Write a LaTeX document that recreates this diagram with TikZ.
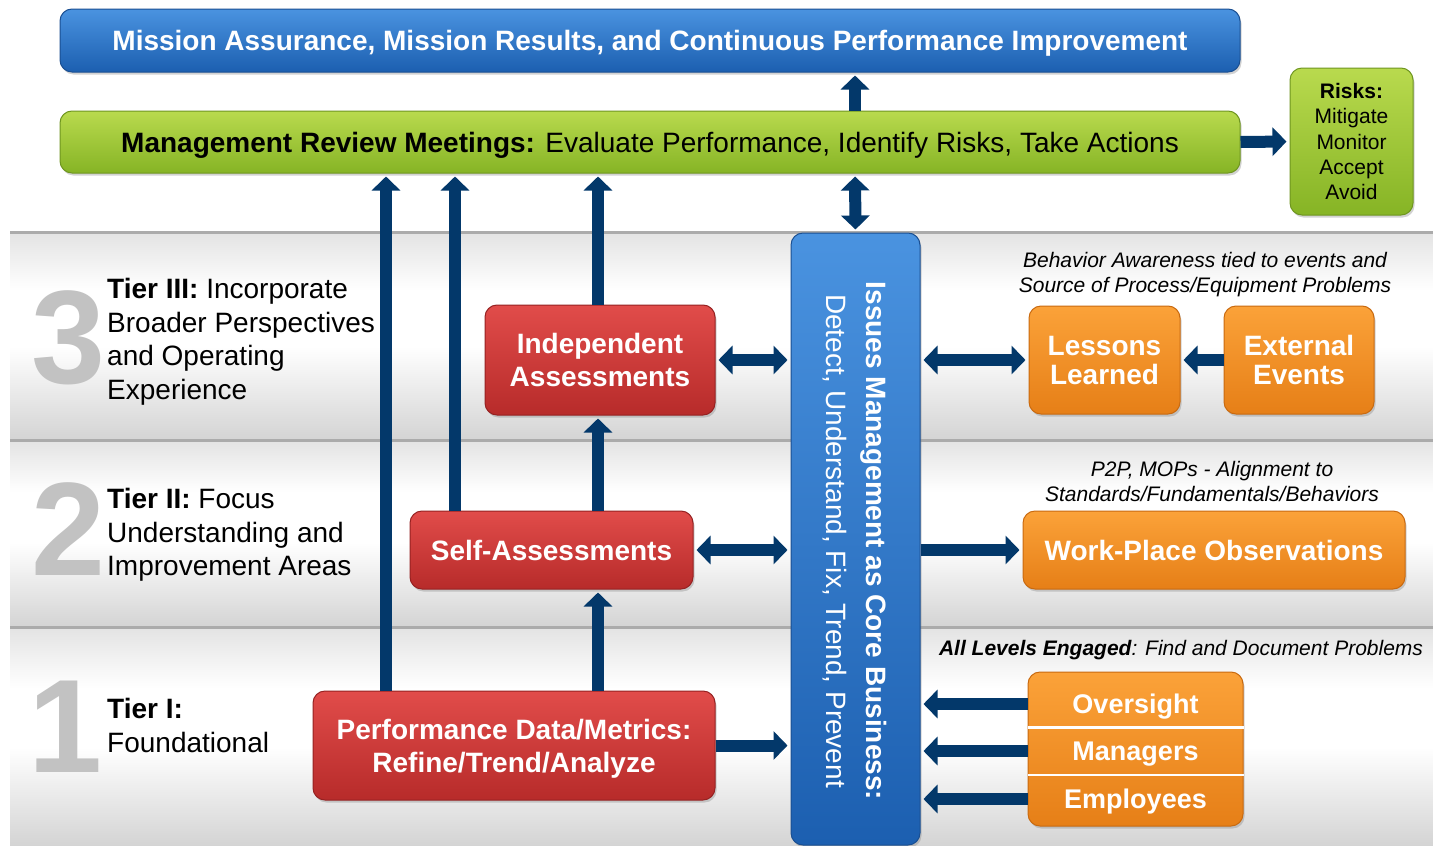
\documentclass[tikz,border=0pt]{standalone}
\usepackage{fontspec}
\setmainfont{Liberation Sans}
\usetikzlibrary{arrows.meta}
\usetikzlibrary{shadows}
\usetikzlibrary{calc}
\definecolor{navy}{HTML}{03386A}
\definecolor{blueTop}{HTML}{4A93E0}
\definecolor{blueBot}{HTML}{1C5FB0}
\definecolor{blueEdge}{HTML}{1A4F92}
\definecolor{greenTop}{HTML}{B9DA4E}
\definecolor{greenBot}{HTML}{86B425}
\definecolor{greenEdge}{HTML}{6F9620}
\definecolor{redTop}{HTML}{E14C4A}
\definecolor{redBot}{HTML}{B72B2A}
\definecolor{redEdge}{HTML}{962222}
\definecolor{orangeTop}{HTML}{FBA239}
\definecolor{orangeBot}{HTML}{E67F17}
\definecolor{orangeEdge}{HTML}{C96A10}
\definecolor{numgray}{HTML}{C2C2C2}

\begin{document}
\begin{tikzpicture}[x=1pt, y=-1pt,
box/.style={rounded corners=12pt, inner sep=0pt, align=center, text=white, line width=1pt,
  text depth=0pt, font=\fontsize{28}{33}\selectfont\bfseries,
  drop shadow={shadow xshift=1.5pt, shadow yshift=-2.5pt, opacity=.35}},
bluebox/.style={box, top color=blueTop, bottom color=blueBot, draw=blueEdge},
greenbox/.style={box, top color=greenTop, bottom color=greenBot, draw=greenEdge, text=black},
redbox/.style={box, top color=redTop, bottom color=redBot, draw=redEdge},
orangebox/.style={box, top color=orangeTop, bottom color=orangeBot, draw=orangeEdge},
rowlabel/.style={text=white, inner sep=0pt, text depth=0pt, font=\fontsize{27}{30}\selectfont\bfseries},
tiernum/.style={text=numgray, inner sep=0pt, font=\fontsize{133}{133}\selectfont\bfseries},
tiertext/.style={anchor=west, align=left, inner sep=0pt, text depth=0pt, font=\fontsize{28}{33.7}\selectfont},
caption/.style={align=center, inner sep=0pt, text depth=0pt, font=\fontsize{21}{25}\selectfont\itshape},
bandline/.style={draw=black!33, line width=3pt},
fatarrow/.style={draw=navy, line width=12pt, shorten >=3pt, -{Triangle[length=14pt,width=28pt]}},
twoway/.style={fatarrow, shorten <=3pt, {Triangle[length=14pt,width=28pt]}-{Triangle[length=14pt,width=28pt]}}]
\useasboundingbox (0,0) rectangle (1433,846);
\fill[white] (0,0) rectangle (1433,846);

% tier bands: grey at the edges, white in the middle
\foreach \ytop/\ybot in {232/440, 440/627, 627/846}{
  \pgfmathsetmacro{\ya}{\ytop+0.28*(\ybot-\ytop)}
  \pgfmathsetmacro{\yb}{\ytop+0.55*(\ybot-\ytop)}
  \shade[top color=black!11, bottom color=white] (10,\ytop) rectangle (1433,\ya);
  \shade[top color=white, bottom color=black!17] (10,\yb) rectangle (1433,\ybot);
  \draw[bandline] (10,\ytop) -- (1433,\ytop);
}

% columns for the vertical arrows
\coordinate (colA) at (386,0);
\coordinate (colB) at (455,0);
\coordinate (colC) at (598,0);
\coordinate (colD) at (855,0);

\node[bluebox, minimum width=1180, minimum height=63] (mission) at (650,40.5)
  {Mission Assurance, Mission Results, and Continuous Performance Improvement};
\node[greenbox, minimum width=1180, minimum height=62] (mrm) at (650,142)
  {Management Review Meetings: \mdseries Evaluate Performance, Identify Risks, Take Actions};
\node[greenbox, minimum width=123, minimum height=147, font=\fontsize{21}{25.3}\selectfont] (risks) at (1351.5,141.5)
  {\textbf{Risks:}\\Mitigate\\Monitor\\Accept\\Avoid};

\node[tiernum] (n3) at (68,338) {3};
\node[tiernum] (n2) at (68,529) {2};
\node[tiernum] (n1) at (65,727) {1};
\node[tiertext] (t3) at (107,339) {\textbf{Tier III:} Incorporate\\Broader Perspectives\\and Operating\\Experience};
\node[tiertext] (t2) at (107,532) {\textbf{Tier II:} Focus\\Understanding and\\Improvement Areas};
\node[tiertext] (t1) at (107,725) {\textbf{Tier I:}\\Foundational};

\node[redbox, minimum width=230, minimum height=110] (ia) at (600,360) {Independent\\Assessments};
\node[redbox, minimum width=283, minimum height=78] (sa) at (551.5,550) {Self-Assessments};
\node[redbox, minimum width=402, minimum height=109] (perf) at (514,745.5)
  {Performance Data/Metrics:\\Refine/Trend/Analyze};

\node[bluebox, minimum width=129, minimum height=612] (im) at (855.5,539) {};
\node[text=white, rotate=-90, align=center, inner sep=0pt, font=\fontsize{28}{40}\selectfont] (imtext) at (855,541)
  {\textbf{Issues Management as Core Business:}\\Detect, Understand, Fix, Trend, Prevent};

\node[orangebox, minimum width=151, minimum height=108, font=\fontsize{28}{29}\selectfont\bfseries] (ll) at (1104.5,360) {Lessons\\Learned};
\node[orangebox, minimum width=150, minimum height=108, font=\fontsize{28}{29}\selectfont\bfseries] (ee) at (1299,360) {External\\Events};
\node[orangebox, minimum width=382, minimum height=78] (wpo) at (1214,550) {Work-Place Observations};
\node[orangebox, minimum width=215, minimum height=154] (ome) at (1135.5,749) {};
\node[rowlabel] (over) at (1135.5,704) {Oversight};
\node[rowlabel] (mgr) at (1135.5,751) {Managers};
\node[rowlabel] (emp) at (1135.5,799) {Employees};
\coordinate (d1) at ($(over)!.5!(mgr)$);
\coordinate (d2) at ($(mgr)!.5!(emp)$);
\draw[white, line width=2.5pt] (ome.west |- d1) -- (ome.east |- d1);
\draw[white, line width=2.5pt] (ome.west |- d2) -- (ome.east |- d2);

\node[caption] (cap3) at (1205,272) {Behavior Awareness tied to events and\\Source of Process/Equipment Problems};
\node[caption] (cap2) at (1212,481) {P2P, MOPs - Alignment to\\Standards/Fundamentals/Behaviors};
\node[caption] (cap1) at (1181,648) {\bfseries All Levels Engaged\mdseries: Find and Document Problems};

% arrows
\draw[fatarrow] (mrm.north -| colD) -- (mission.south -| colD);
\draw[fatarrow] (mrm.east) -- (risks.west);
\draw[twoway] (mrm.south -| colD) -- (im.north);
\draw[fatarrow] (perf.north -| colA) -- (mrm.south -| colA);
\draw[fatarrow] (sa.north -| colB) -- (mrm.south -| colB);
\draw[fatarrow] (ia.north -| colC) -- (mrm.south -| colC);
\draw[fatarrow] (perf.north -| colC) -- (sa.south -| colC);
\draw[fatarrow] (sa.north -| colC) -- (ia.south -| colC);
\draw[twoway] (ia.east) -- (im.west |- ia.east);
\draw[twoway] (sa.east) -- (im.west |- sa.east);
\draw[fatarrow] (perf.east) -- (im.west |- perf.east);
\draw[twoway] (im.east |- ll.west) -- (ll.west);
\draw[fatarrow] (ee.west) -- (ll.east);
\draw[fatarrow] (im.east |- wpo.west) -- (wpo.west);
\foreach \n in {over, mgr, emp}
  \draw[fatarrow, shorten <=0pt] (ome.west |- \n) -- (im.east |- \n);
\end{tikzpicture}
\end{document}
